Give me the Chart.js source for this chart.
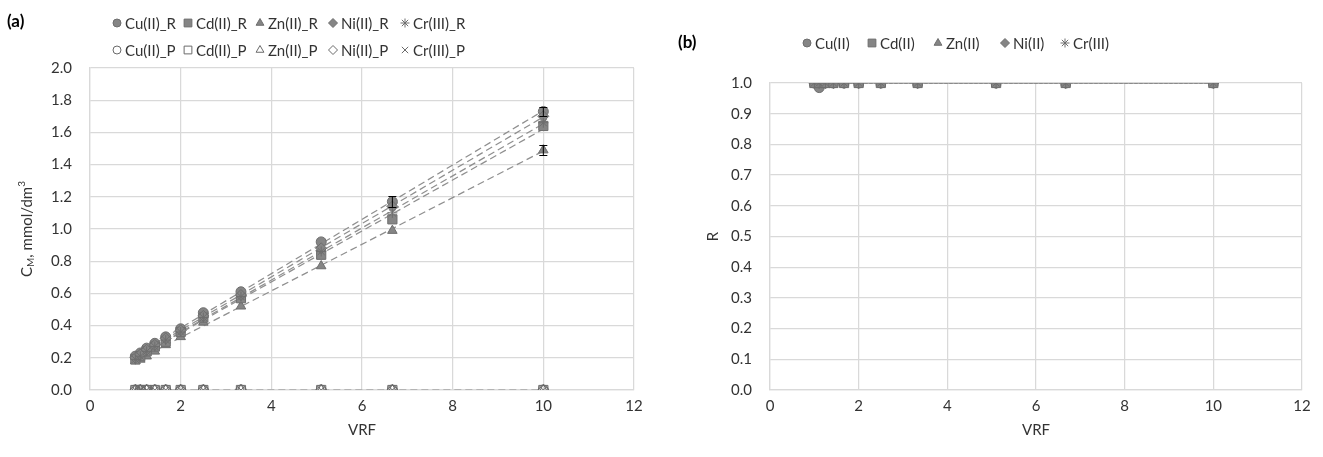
<!DOCTYPE html>
<html>
<head>
<meta charset="utf-8">
<script src="https://cdn.jsdelivr.net/npm/chart.js@4.4.0/dist/chart.umd.min.js"></script>
<style>
    body { margin: 0; background: #fff; }
    #wrap { position: relative; width: 1323px; height: 457px; }
    .box { position: absolute; top: 0; height: 457px; }
    #boxA { left: 0; width: 655px; }
    #boxB { left: 655px; width: 668px; }
</style>
</head>
<body>
<div id="wrap">
    <div class="box" id="boxA"><canvas id="chartA"></canvas></div>
    <div class="box" id="boxB"><canvas id="chartB"></canvas></div>
</div>
<script>
// VRF values (x) shared by both panels
const vrf = [1, 1.11, 1.25, 1.43, 1.67, 2, 2.5, 3.33, 5.1, 6.67, 10];

// (a) retentate concentrations, mmol/dm3
const cuR = [0.21, 0.23, 0.26, 0.29, 0.33, 0.38, 0.48, 0.61, 0.92, 1.17, 1.73];
const cdR = [0.19, 0.21, 0.24, 0.27, 0.30, 0.36, 0.45, 0.57, 0.84, 1.06, 1.64];
const znR = [0.18, 0.19, 0.21, 0.24, 0.28, 0.33, 0.42, 0.52, 0.77, 0.99, 1.49];
const niR = [0.20, 0.22, 0.25, 0.28, 0.32, 0.37, 0.46, 0.59, 0.88, 1.14, 1.70];
const crR = [0.19, 0.21, 0.24, 0.27, 0.31, 0.36, 0.45, 0.58, 0.86, 1.10, 1.66];

// (a) permeate concentrations
const cuP = [0, 0, 0, 0, 0, 0, 0, 0, 0, 0, 0];
const cdP = [0, 0, 0, 0, 0, 0, 0, 0, 0, 0, 0];
const znP = [0, 0, 0, 0, 0, 0, 0, 0, 0, 0, 0];
const niP = [0, 0, 0, 0, 0, 0, 0, 0, 0, 0, 0];
const crP = [0, 0, 0, 0, 0, 0, 0, 0, 0, 0, 0];

// (a) error bars (only the larger ones show)
const cuErr = [0, 0, 0, 0, 0, 0, 0, 0, 0, 0.035, 0.03];
const znErr = [0, 0, 0, 0, 0, 0, 0, 0, 0, 0, 0.03];

// (b) retention coefficients
const rCu = [1, 0.985, 1, 1, 1, 1, 1, 1, 1, 1, 1];
const rCd = [1, 1, 1, 1, 1, 1, 1, 1, 1, 1, 1];
const rZn = [1, 1, 1, 1, 1, 1, 1, 1, 1, 1, 1];
const rNi = [1, 1, 1, 1, 1, 1, 1, 1, 1, 1, 1];
const rCr = [1, 1, 1, 1, 1, 1, 1, 1, 1, 1, 1];

const FONT = 'Lato, "Open Sans", sans-serif';
const FS = 15;
const TEXT = '#333333';
const GRID = '#d9d9d9';
const FILL = '#858585';
const EDGE = '#6e6e6e';

Chart.defaults.font.family = FONT;
Chart.defaults.font.size = FS;
Chart.defaults.color = TEXT;

const pts = (ys) => vrf.map((x, i) => ({ x: x, y: ys[i] }));
const markSize = { circle: 5, rect: 6.5, triangle: 5.5, rectRot: 5.5, star: 5, crossRot: 5 };
const legendSize = { circle: 4, rect: 5.5, triangle: 4.5, rectRot: 4.5, star: 4.5, crossRot: 4.5 };

function linearFit(xs, ys) {
    const n = xs.length;
    const mx = xs.reduce((a, b) => a + b, 0) / n;
    const my = ys.reduce((a, b) => a + b, 0) / n;
    let sxy = 0, sxx = 0;
    xs.forEach((x, i) => { sxy += (x - mx) * (ys[i] - my); sxx += (x - mx) * (x - mx); });
    const b = sxx ? sxy / sxx : 0;
    const a = my - b * mx;
    return x => a + b * x;
}

function trendSet(ys) {
    const f = linearFit(vrf, ys);
    const ends = [vrf[0], vrf[vrf.length - 1]];
    return {
        label: '', data: ends.map(x => ({ x: x, y: f(x) })),
        showLine: true, borderColor: '#8f8f8f', borderWidth: 1.25, borderDash: [7, 4],
        pointRadius: 0, order: 10
    };
}

function retSet(label, ys, style, order) {
    const filled = style !== 'star' && style !== 'crossRot';
    return {
        label: label, data: pts(ys), pointStyle: style, pointRadius: markSize[style],
        backgroundColor: filled ? FILL : EDGE, borderColor: EDGE, borderWidth: 1, order: order
    };
}

function permSet(label, ys, style) {
    return {
        label: label, data: pts(ys), pointStyle: style, pointRadius: markSize[style],
        backgroundColor: 'rgba(255,255,255,0)', borderColor: '#6a6a6a', borderWidth: 1, order: 5
    };
}

// legend drawn by hand so the rows break like the original
const sheetLegend = {
    id: 'sheetLegend',
    afterDraw(chart, args, opts) {
        const ctx = chart.ctx;
        ctx.save();
        ctx.font = FS + 'px ' + FONT;
        ctx.textBaseline = 'middle';
        opts.items.forEach(it => {
            const ds = chart.data.datasets[it.index];
            ctx.fillStyle = ds.backgroundColor;
            ctx.strokeStyle = ds.pointBorderColor || ds.borderColor;
            ctx.lineWidth = 1;
            Chart.helpers.drawPoint(ctx, { pointStyle: ds.pointStyle, radius: legendSize[ds.pointStyle], borderWidth: 1, rotation: 0 }, it.x, it.y);
            ctx.fillStyle = TEXT;
            ctx.fillText(ds.label, it.x + 8, it.y + 1);
        });
        // panel tag
        ctx.font = 'bold 17px ' + FONT;
        ctx.fillStyle = '#000';
        ctx.fillText(opts.tag.text, opts.tag.x, opts.tag.y);
        ctx.restore();
    }
};

// rotated y title with sub/superscripts
const yTitle = {
    id: 'yTitle',
    afterDraw(chart, args, opts) {
        const ctx = chart.ctx;
        const area = chart.chartArea;
        ctx.save();
        ctx.translate(opts.x, (area.top + area.bottom) / 2);
        ctx.rotate(-Math.PI / 2);
        ctx.fillStyle = TEXT;
        ctx.textBaseline = 'middle';
        let w = 0;
        opts.parts.forEach(p => { ctx.font = p.size + 'px ' + FONT; w += ctx.measureText(p.t).width; });
        let x = -w / 2;
        opts.parts.forEach(p => {
            ctx.font = p.size + 'px ' + FONT;
            ctx.fillText(p.t, x, p.dy || 0);
            x += ctx.measureText(p.t).width;
        });
        ctx.restore();
    }
};

const errorBars = {
    id: 'errorBars',
    afterDatasetsDraw(chart) {
        const ctx = chart.ctx;
        const yScale = chart.scales.y;
        ctx.save();
        ctx.strokeStyle = '#000';
        ctx.lineWidth = 1;
        chart.data.datasets.forEach((ds, i) => {
            if (!ds.errors) return;
            chart.getDatasetMeta(i).data.forEach((pt, j) => {
                const e = ds.errors[j];
                if (!e) return;
                const v = ds.data[j].y;
                const top = Math.round(yScale.getPixelForValue(v + e)) + 0.5;
                const bot = Math.round(yScale.getPixelForValue(v - e)) + 0.5;
                ctx.beginPath();
                ctx.moveTo(pt.x, top); ctx.lineTo(pt.x, bot);
                ctx.moveTo(pt.x - 4, top); ctx.lineTo(pt.x + 4, top);
                ctx.moveTo(pt.x - 4, bot); ctx.lineTo(pt.x + 4, bot);
                ctx.stroke();
            });
        });
        ctx.restore();
    }
};

function axes(yMax, yStep, yWidth, xTitle) {
    return {
        x: {
            type: 'linear', min: 0, max: 12,
            ticks: { stepSize: 2, padding: 7, color: TEXT },
            grid: { color: GRID, lineWidth: 1.25, drawTicks: false },
            border: { color: GRID, width: 1.25 },
            title: { display: true, text: xTitle, color: TEXT, font: { size: FS }, padding: { top: 4, bottom: 18 } },
            afterFit: s => { s.height = 67; }
        },
        y: {
            type: 'linear', min: 0, max: yMax,
            ticks: { stepSize: yStep, padding: 18, color: TEXT, callback: v => v.toFixed(1) },
            grid: { color: GRID, lineWidth: 1.25, drawTicks: false },
            border: { color: GRID, width: 1.25 },
            afterFit: s => { s.width = yWidth; }
        }
    };
}

// ---------- (a) ----------
const dataA = [
    retSet('Cu(II)_R', cuR, 'circle', 4),
    retSet('Cd(II)_R', cdR, 'rect', 2),
    retSet('Zn(II)_R', znR, 'triangle', 3),
    retSet('Ni(II)_R', niR, 'rectRot', 1),
    retSet('Cr(III)_R', crR, 'star', 0),
    permSet('Cu(II)_P', cuP, 'circle'),
    permSet('Cd(II)_P', cdP, 'rect'),
    permSet('Zn(II)_P', znP, 'triangle'),
    permSet('Ni(II)_P', niP, 'rectRot'),
    permSet('Cr(III)_P', crP, 'crossRot'),
    trendSet(cuR), trendSet(cdR), trendSet(znR), trendSet(niR), trendSet(crR), trendSet(cuP)
];
dataA[0].errors = cuErr;
dataA[2].errors = znErr;

const legendX = [117, 188, 260, 333, 405];

new Chart(document.getElementById('chartA'), {
    type: 'scatter',
    data: { datasets: dataA },
    options: {
        responsive: true, maintainAspectRatio: false, animation: false,
        layout: { padding: { top: 68, right: 21, left: 0, bottom: 0 } },
        scales: axes(2, 0.2, 90, 'VRF'),
        plugins: {
            legend: { display: false },
            tooltip: { enabled: false },
            sheetLegend: {
                items: legendX.map((x, i) => ({ index: i, x: x, y: 23 }))
                    .concat(legendX.map((x, i) => ({ index: i + 5, x: x, y: 50 }))),
                tag: { text: '(a)', x: 7, y: 22 }
            },
            yTitle: {
                x: 27,
                parts: [
                    { t: 'C', size: FS },
                    { t: 'M', size: 10, dy: 4 },
                    { t: ', mmol/dm', size: FS },
                    { t: '3', size: 10, dy: -5 }
                ]
            }
        }
    },
    plugins: [sheetLegend, yTitle, errorBars]
});

// ---------- (b) ----------
function rSet(label, ys, style, order) {
    const filled = style !== 'star';
    return {
        label: label, data: pts(ys), pointStyle: style, pointRadius: markSize[style],
        backgroundColor: filled ? FILL : EDGE, pointBorderColor: EDGE, pointBorderWidth: 1,
        borderColor: '#8a8a8a', borderWidth: 1.25,
        showLine: true, borderDash: [3, 2], order: order
    };
}

const dataB = [
    rSet('Cu(II)', rCu, 'circle', 4),
    rSet('Cd(II)', rCd, 'rect', 1),
    rSet('Zn(II)', rZn, 'triangle', 3),
    rSet('Ni(II)', rNi, 'rectRot', 2),
    rSet('Cr(III)', rCr, 'star', 0)
];

const legendXB = [152, 217, 283, 350, 410];

new Chart(document.getElementById('chartB'), {
    type: 'scatter',
    data: { datasets: dataB },
    options: {
        responsive: true, maintainAspectRatio: false, animation: false,
        layout: { padding: { top: 83, right: 21, left: 0, bottom: 0 } },
        scales: axes(1, 0.1, 115, 'VRF'),
        plugins: {
            legend: { display: false },
            tooltip: { enabled: false },
            sheetLegend: {
                items: legendXB.map((x, i) => ({ index: i, x: x, y: 43 })),
                tag: { text: '(b)', x: 23, y: 43 }
            },
            yTitle: { x: 58, parts: [{ t: 'R', size: FS }] }
        }
    },
    plugins: [sheetLegend, yTitle]
});
</script>
</body>
</html>
